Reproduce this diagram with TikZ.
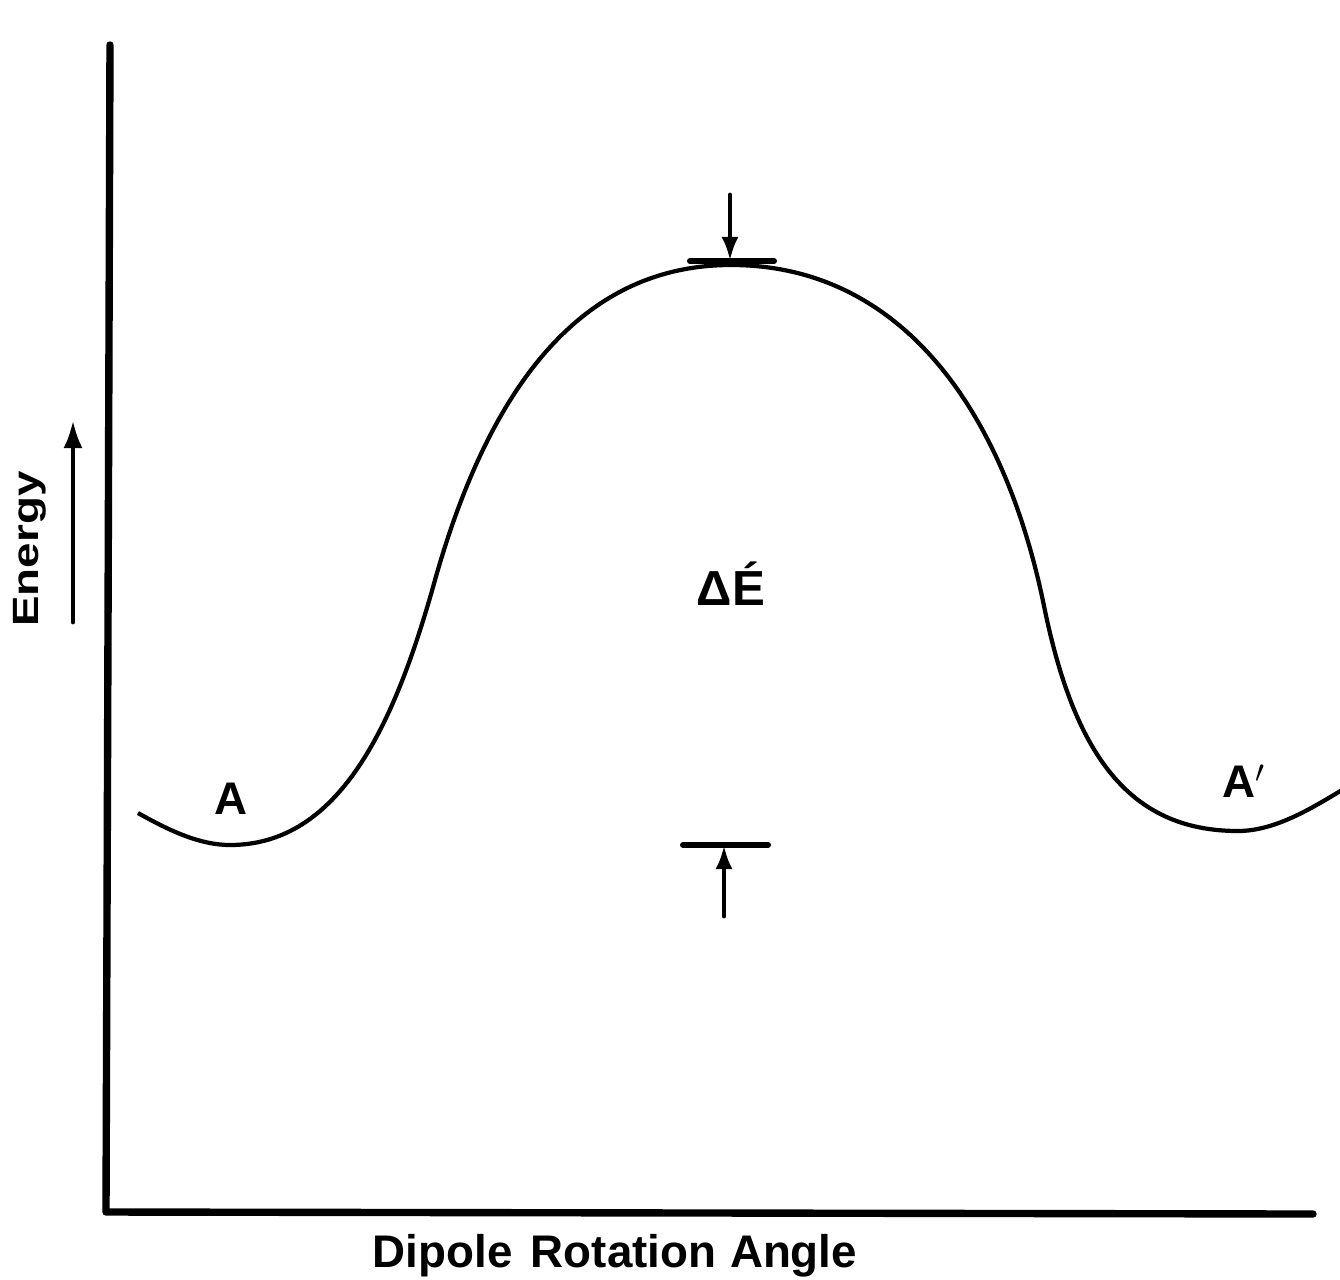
\documentclass[tikz,border=0pt]{standalone}
\usepackage{fontspec}
\setmainfont{Liberation Sans}
\usetikzlibrary{arrows.meta}
\tikzset{
  axis/.style={line width=2.1pt, line cap=round, line join=round},
  curve/.style={line width=1.2pt},
  lbl/.style={font=\bfseries\fontsize{13}{15}\selectfont, inner sep=0pt},
  bar/.style={line width=1.7pt, line cap=round},
  arr/.style={-{Latex[length=2.4mm,width=1.7mm]}, line width=1.4pt, line cap=round}}

\begin{document}
\begin{tikzpicture}[x=0.01cm, y=-0.01cm]
  \useasboundingbox (0,0) rectangle (1340,1279);
  % axes
  \coordinate (top) at (110,45);
  \coordinate (origin) at (106,1212);
  \coordinate (xend) at (1313,1214);
  \draw[axis] (top) -- (origin) -- (xend);
  % energy profile
  \coordinate (start) at (138,813);
  \coordinate (minA) at (230,845);
  \coordinate (riseA) at (435,580);
  \coordinate (peak) at (731,265);
  \coordinate (fallB) at (1044,606);
  \coordinate (minB) at (1238,831);
  \coordinate (stop) at (1342,790);
  \draw[curve] (start) .. controls (170,831) and (200,845) .. (minA)
    .. controls (340,845) and (395,724) .. (riseA)
    .. controls (489,388) and (581,265) .. (peak)
    .. controls (901,265) and (1004,410) .. (fallB)
    .. controls (1074,753) and (1128,831) .. (minB)
    .. controls (1275,831) and (1312,808) .. (stop);
  \node[lbl] (A) at (231,799) {A};
  \node[lbl] (Aprime) at (1244,781) {A$'$};
  \node[lbl, font=\bfseries\fontsize{14}{16}\selectfont] (dE) at (731,584) {Δ\'E};
  % barrier markers
  \coordinate (tbl) at (690,261);
  \coordinate (tbr) at (774,261);
  \coordinate (tmid) at (730,261);
  \coordinate (ttail) at (730,195);
  \draw[bar] (tbl) -- (tbr);
  \draw[arr] (ttail) -- (tmid);
  \coordinate (bbl) at (683,845);
  \coordinate (bbr) at (768,845);
  \coordinate (bmid) at (724,845);
  \coordinate (btail) at (724,916);
  \draw[bar] (bbl) -- (bbr);
  \draw[arr] (btail) -- (bmid);
  % axis labels
  \node[lbl, rotate=90, yscale=0.8, anchor=base] (energy) at (38,549) {Energy};
  \coordinate (etail) at (73,622);
  \coordinate (ehead) at (73,420);
  \draw[arr, -{Latex[length=2.8mm,width=1.9mm]}] (etail) -- (ehead);
  \node[lbl, anchor=base] (xlabel) at (615,1267) {Dipole\hspace{0.4em}Rotation\hspace{0.3em}Angle};
\end{tikzpicture}
\end{document}
